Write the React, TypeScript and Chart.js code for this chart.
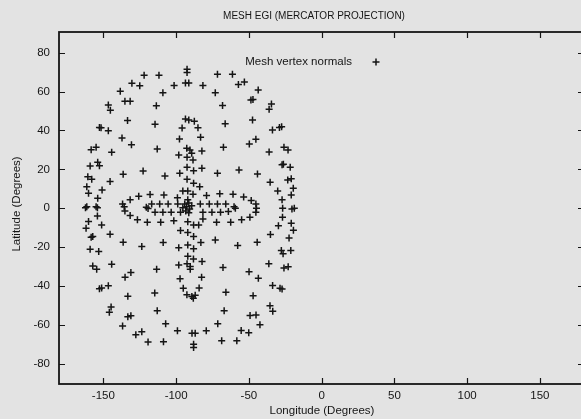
import React, { useEffect, useRef } from "react";
import { Chart, registerables } from "chart.js";

Chart.register(...registerables);

const chartTitle = "MESH EGI (MERCATOR PROJECTION)";
const xAxisTitle = "Longitude (Degrees)";
const yAxisTitle = "Latitude (Degrees)";
const seriesName = "Mesh vertex normals";

const xTicks = [-150, -100, -50, 0, 50, 100, 150];
const yTicks = [-80, -60, -40, -20, 0, 20, 40, 60, 80];

const longitudes = [
  -92.5, -92.5, -122.0, -111.8, -71.6, -61.3, -130.4, -125.0, -101.4, -93.6,
  -91.3, -81.6, -57.2, -53.1, -73.1, -43.6, -138.4, -109.1, -135.2, -131.6,
  -48.6, -47.2, -146.6, -145.2, -113.6, -68.1, -34.5, -36.1, -133.4, -114.5,
  -93.6, -91.3, -87.5, -95.9, -85.0, -66.3, -47.5, -152.7, -151.6, -146.6,
  -33.8, -29.0, -27.5, -137.2, -130.7, -97.7, -83.2, -49.7, -45.2, -158.4,
  -155.0, -144.3, -113.0, -92.7, -90.5, -89.3, -98.2, -92.5, -88.4, -82.3,
  -67.5, -36.1, -25.9, -23.1, -159.1, -153.9, -152.7, -136.4, -122.7, -107.7,
  -92.5, -88.0, -82.3, -97.5, -71.6, -56.8, -44.1, -27.2, -26.3, -21.6,
  -160.7, -158.0, -145.4, -92.5, -88.0, -83.8, -35.4, -23.3, -20.9, -161.4,
  -150.9, -160.2, -30.2, -19.5, -20.9, -153.9, -125.7, -117.9, -108.4, -99.1,
  -95.4, -92.0, -88.4, -79.1, -70.0, -60.9, -53.6, -27.2, -131.6, -48.4,
  -161.4, -162.3, -155.0, -154.1, -136.8, -135.7, -135.2, -120.5, -119.3, -116.8,
  -111.3, -105.5, -98.9, -94.1, -91.3, -92.7, -90.7, -93.4, -91.3, -89.3,
  -95.4, -92.0, -83.4, -77.2, -71.6, -65.9, -60.2, -59.3, -45.2, -44.8,
  -45.2, -131.6, -114.5, -109.1, -103.4, -97.0, -81.6, -75.4, -69.5, -64.1,
  -26.8, -20.4, -18.8, -126.6, -119.8, -110.6, -101.6, -92.0, -88.0, -84.5,
  -81.6, -72.2, -62.5, -55.0, -49.3, -154.1, -160.2, -151.2, -161.9, -158.4,
  -157.3, -145.4, -159.1, -153.2, -157.3, -154.6, -144.3, -152.7, -151.2, -146.6,
  -144.7, -145.9, -133.2, -131.1, -136.8, -127.7, -123.6, -119.3, -108.7, -99.1,
  -89.1, -86.9, -88.0, -88.0, -79.3, -68.7, -58.3, -55.3, -50.1, -42.4,
  -49.2, -45.1, -71.4, -107.2, -113.0, -67.0, -35.5, -33.6, -133.2, -114.7,
  -95.1, -84.2, -92.6, -89.2, -86.9, -88.2, -65.8, -47.1, -33.7, -28.6,
  -27.2, -131.1, -135.1, -97.3, -82.5, -43.5, -49.9, -113.4, -98.2, -90.3,
  -90.3, -92.5, -67.8, -36.3, -25.9, -23.0, -92.0, -88.1, -82.2, -123.6,
  -136.4, -108.9, -98.2, -92.0, -88.0, -83.0, -73.1, -57.7, -44.3, -97.0,
  -92.0, -88.0, -35.2, -27.7, -26.5, -21.2, -22.4, -19.4, -20.9, -29.7,
  -26.9,
];

const latitudes = [
  71.5, 69.9, 68.4, 68.4, 68.9, 68.9, 64.3, 63.0, 63.2, 64.4,
  64.4, 63.2, 63.7, 64.9, 59.4, 60.8, 60.2, 59.4, 55.0, 55.0,
  55.7, 56.0, 53.1, 50.4, 52.7, 52.9, 53.6, 50.9, 45.2, 43.2,
  45.9, 45.4, 44.7, 41.3, 41.4, 43.5, 45.4, 41.6, 41.4, 39.9,
  40.3, 41.6, 41.9, 36.1, 32.7, 35.6, 36.5, 33.1, 35.5, 30.1,
  31.4, 28.8, 30.5, 30.8, 30.0, 28.3, 27.4, 26.2, 24.8, 29.5,
  31.4, 28.9, 31.4, 30.0, 21.7, 23.6, 21.9, 17.5, 19.2, 16.6,
  21.1, 19.3, 20.6, 18.0, 18.0, 19.7, 17.6, 22.3, 22.6, 21.1,
  16.2, 14.9, 13.7, 14.9, 12.9, 11.1, 13.4, 14.5, 15.1, 11.1,
  9.4, 7.7, 8.9, 10.3, 6.8, 5.1, 6.2, 7.0, 6.8, 5.4,
  8.9, 8.9, 7.2, 6.5, 7.4, 7.2, 5.7, 4.3, 4.4, 3.9,
  0.8, 0.2, 0.8, 0.2, 2.2, 0.8, -1.4, 0.5, -0.2, 2.2,
  2.2, 2.2, 2.2, 2.2, 2.7, 0.7, -0.4, -1.4, -2.4, 1.2,
  0.2, 4.3, 2.2, 2.2, 2.2, 2.2, 0.8, 0.0, 2.2, 0.0,
  -2.1, -3.8, -2.1, -2.1, -2.1, -2.1, -2.1, -2.1, -2.1, -1.7,
  0.0, -0.4, 0.0, -6.0, -7.2, -7.2, -6.4, -7.0, -8.7, -8.7,
  -5.5, -7.2, -7.2, -6.0, -4.6, -4.0, -6.9, -8.7, -10.3, -14.9,
  -14.6, -13.4, -21.1, -22.3, -29.7, -31.4, -28.9, -41.5, -41.1, -39.9,
  -50.8, -53.6, -55.9, -55.4, -60.7, -65.2, -63.6, -68.9, -68.8, -63.1,
  -64.4, -64.4, -70.0, -71.7, -63.1, -68.2, -68.2, -63.0, -64.1, -60.0,
  -55.2, -55.0, -59.5, -59.5, -52.8, -52.8, -50.2, -53.1, -45.3, -43.6,
  -41.2, -41.1, -44.5, -45.4, -44.8, -46.3, -43.3, -45.1, -39.8, -41.2,
  -41.6, -33.1, -35.5, -36.3, -35.5, -36.0, -32.7, -31.4, -29.3, -30.0,
  -31.4, -28.6, -30.5, -28.6, -30.8, -30.1, -24.7, -26.1, -27.5, -19.7,
  -17.5, -17.6, -20.4, -18.9, -20.9, -17.7, -16.4, -19.2, -17.5, -11.5,
  -12.5, -14.6, -13.5, -21.8, -23.5, -21.8, -15.4, -11.4, -7.7, -9.1,
  -4.7,
];

const INK = "#151515";
const FONT = "'Liberation Sans', Arial, Helvetica, sans-serif";

const decorPlugin = {
  id: "decor",
  afterDraw(chart: any) {
    const { ctx, chartArea: a, scales } = chart;
    ctx.save();
    // inward tick marks on all four sides
    ctx.strokeStyle = INK;
    ctx.lineWidth = 1.2;
    ctx.beginPath();
    const tl = 6;
    for (const v of xTicks) {
      const px = Math.round(scales.x.getPixelForValue(v)) + 0.5;
      ctx.moveTo(px, a.bottom);
      ctx.lineTo(px, a.bottom - tl);
      ctx.moveTo(px, a.top);
      ctx.lineTo(px, a.top + tl);
    }
    for (const v of yTicks) {
      const py = Math.round(scales.y.getPixelForValue(v)) + 0.5;
      ctx.moveTo(a.left, py);
      ctx.lineTo(a.left + tl, py);
      ctx.moveTo(a.right, py);
      ctx.lineTo(a.right - tl, py);
    }
    ctx.stroke();
    // frame
    ctx.lineWidth = 1.8;
    ctx.strokeRect(a.left, a.top, a.right - a.left, a.bottom - a.top);

    // texts
    ctx.fillStyle = INK;
    ctx.textBaseline = "middle";
    ctx.textAlign = "center";
    ctx.font = `10px ${FONT}`;
    ctx.fillText(chartTitle, 314, 16);
    ctx.font = `11.5px ${FONT}`;
    ctx.fillText(xAxisTitle, 322, 411);
    ctx.save();
    ctx.translate(17, 204);
    ctx.rotate(-Math.PI / 2);
    ctx.fillText(yAxisTitle, 0, 0);
    ctx.restore();

    // legend (text then sample marker, inside the plot)
    ctx.textAlign = "right";
    ctx.fillText(seriesName, 352, 62);
    const mx = 376, my = 62, r = 3.5;
    ctx.lineWidth = 1.5;
    ctx.beginPath();
    ctx.moveTo(mx - r, my);
    ctx.lineTo(mx + r, my);
    ctx.moveTo(mx, my - r);
    ctx.lineTo(mx, my + r);
    ctx.stroke();
    ctx.restore();
  },
};

export default function App() {
  const canvasRef = useRef<HTMLCanvasElement | null>(null);

  useEffect(() => {
    if (!canvasRef.current) return;
    const points = longitudes.map((x, i) => ({ x, y: latitudes[i] }));
    const chart = new Chart(canvasRef.current, {
      type: "scatter",
      data: {
        datasets: [
          {
            label: seriesName,
            data: points,
            pointStyle: "cross",
            pointRadius: 3.5,
            pointBorderWidth: 1.5,
            borderColor: INK,
            backgroundColor: INK,
            pointHoverRadius: 3.5,
          },
        ],
      },
      options: {
        responsive: false,
        animation: false,
        devicePixelRatio: 1,
        layout: { padding: { top: 32, right: 1, left: 0, bottom: 0 } },
        plugins: {
          legend: { display: false },
          title: { display: false },
          tooltip: { enabled: false },
        },
        scales: {
          x: {
            type: "linear",
            min: -180.5,
            max: 180.3,
            grid: { display: false, drawTicks: false },
            border: { display: false },
            ticks: {
              padding: 5,
              color: INK,
              font: { family: FONT, size: 11.5 },
              autoSkip: false,
              maxRotation: 0,
            },
            afterBuildTicks(scale: any) {
              scale.ticks = xTicks.map((value) => ({ value }));
            },
            afterFit(scale: any) {
              scale.height = 35;
            },
          },
          y: {
            type: "linear",
            min: -90.5,
            max: 90.7,
            grid: { display: false, drawTicks: false },
            border: { display: false },
            ticks: {
              padding: 9,
              color: INK,
              font: { family: FONT, size: 11.5 },
              autoSkip: false,
            },
            afterBuildTicks(scale: any) {
              scale.ticks = yTicks.map((value) => ({ value }));
            },
            afterFit(scale: any) {
              scale.width = 59;
            },
          },
        },
      },
      plugins: [decorPlugin],
    });
    return () => chart.destroy();
  }, []);

  return (
    <div
      style={{
        position: "fixed",
        left: 0,
        top: 0,
        width: 581,
        height: 419,
        background: "#e3e3e3",
        overflow: "hidden",
      }}
    >
      <canvas ref={canvasRef} width={589} height={419} style={{ display: "block" }} />
    </div>
  );
}
